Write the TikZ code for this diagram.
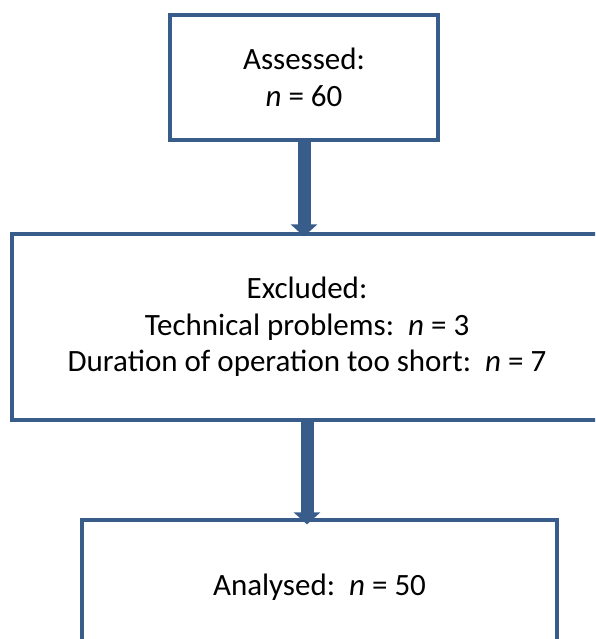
\documentclass[tikz,border=0pt]{standalone}
\usepackage{fontspec}
\setmainfont{Carlito}
\usetikzlibrary{arrows.meta}
\definecolor{boxblue}{RGB}{56,93,138}
\begin{document}
\begin{tikzpicture}[x=1pt, y=-1pt, every node/.style={draw=boxblue, line width=3.2pt, align=center, inner sep=0pt, font=\fontsize{31}{36.5}\selectfont}, flow/.style={draw=boxblue, line width=13pt, -{Triangle[width=26pt,length=12pt]}}]
            \useasboundingbox (0,0) rectangle (595,639);
            \clip (0,0) rectangle (595,639);
            \node[minimum width=268pt, minimum height=125pt] (assessed) at (304,77.5) {Assessed:\\\textit{n} = 60};
            \node[minimum width=590pt, minimum height=186pt] (excluded) at (307,327) {Excluded:\\Technical problems:\ \ \textit{n} = 3\\Duration of operation too short:\ \ \textit{n} = 7};
            \node[minimum width=475pt, minimum height=134pt] (analysed) at (319.5,587) {Analysed:\ \ \textit{n} = 50};
            \draw[flow] (assessed.south) -- ([yshift=-4pt]assessed.south |- excluded.north);
            \draw[flow] (excluded.south) -- ([yshift=-6pt]excluded.south |- analysed.north);
        \end{tikzpicture}
\end{document}
